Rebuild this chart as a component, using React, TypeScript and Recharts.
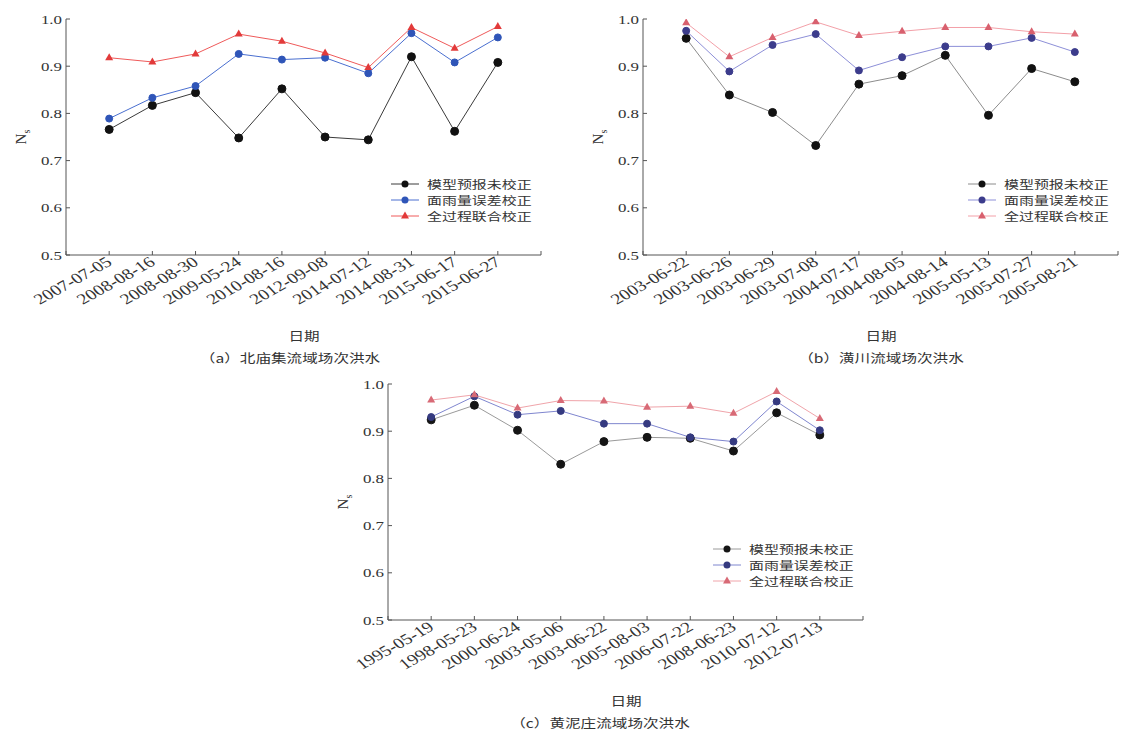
import React from 'react';
import { LineChart, Line, XAxis, YAxis } from 'recharts';

const seriesNames = ['模型预报未校正', '面雨量误差校正', '全过程联合校正'];
const yTicks = [0.5, 0.6, 0.7, 0.8, 0.9, 1.0];
const xTicks = [0, 1, 2, 3, 4, 5, 6, 7, 8, 9, 10, 11];

// (a) 北庙集
const datesA = ['2007-07-05', '2008-08-16', '2008-08-30', '2009-05-24', '2010-08-16', '2012-09-08', '2014-07-12', '2014-08-31', '2015-06-17', '2015-06-27'];
const uncorrA = [0.766, 0.817, 0.844, 0.748, 0.852, 0.75, 0.744, 0.92, 0.762, 0.908];
const rainA = [0.789, 0.833, 0.858, 0.926, 0.914, 0.918, 0.885, 0.97, 0.908, 0.961];
const jointA = [0.918, 0.909, 0.926, 0.968, 0.953, 0.928, 0.897, 0.982, 0.938, 0.984];

// (b) 潢川
const datesB = ['2003-06-22', '2003-06-26', '2003-06-29', '2003-07-08', '2004-07-17', '2004-08-05', '2004-08-14', '2005-05-13', '2005-07-27', '2005-08-21'];
const uncorrB = [0.959, 0.839, 0.802, 0.732, 0.862, 0.88, 0.923, 0.796, 0.895, 0.867];
const rainB = [0.975, 0.889, 0.945, 0.968, 0.891, 0.919, 0.942, 0.942, 0.96, 0.93];
const jointB = [0.992, 0.92, 0.961, 0.994, 0.965, 0.974, 0.982, 0.982, 0.973, 0.968];

// (c) 黄泥庄
const datesC = ['1995-05-19', '1998-05-23', '2000-06-24', '2003-05-06', '2003-06-22', '2005-08-03', '2006-07-22', '2008-06-23', '2010-07-12', '2012-07-13'];
const uncorrC = [0.924, 0.955, 0.902, 0.83, 0.878, 0.887, 0.885, 0.858, 0.939, 0.892];
const rainC = [0.93, 0.974, 0.935, 0.943, 0.916, 0.916, 0.887, 0.878, 0.963, 0.902];
const jointC = [0.966, 0.977, 0.949, 0.965, 0.964, 0.951, 0.953, 0.938, 0.984, 0.927];

type Pal = { u: string; uDot: string; r: string; rDot: string; j: string; jDot: string };

const palA: Pal = { u: '#3a3a3a', uDot: '#111', r: '#4a6fd0', rDot: '#2f55b8', j: '#ef5a5a', jDot: '#e23a3a' };
const palB: Pal = { u: '#8c8c8c', uDot: '#111', r: '#8d8fd8', rDot: '#3c3c8c', j: '#f3a0a8', jDot: '#d8606e' };
const palC: Pal = { u: '#9a9a9a', uDot: '#151515', r: '#7f86cf', rDot: '#353a80', j: '#f0a4aa', jDot: '#d86a76' };

const NUM_FONT = '"Liberation Serif", "Times New Roman", serif';
const CJK_FONT = '"Noto Sans CJK SC", sans-serif';
const TXT = '#333';

// chart geometry: y axis 60 wide, plot 475 x 236
const CH_W = 538;
const CH_H = 316;

function XTick(props: any) {
  const { x, y, payload, dates } = props;
  const v = payload.value;
  const label = v >= 1 && v <= dates.length ? dates[v - 1] : '';
  return (
    <g>
      <line x1={x} y1={y} x2={x} y2={y - 4} stroke="#555" />
      {label && (
        <text
          transform={`translate(${x + 4},${y + 9}) scale(1.3,1) rotate(-36)`}
          textAnchor="end"
          fontSize={15}
          fill={TXT}
          fontFamily={NUM_FONT}
        >
          {label}
        </text>
      )}
    </g>
  );
}

function YTick(props: any) {
  const { x, y, payload } = props;
  return (
    <g>
      <line x1={x} y1={y} x2={x + 4} y2={y} stroke="#555" />
      <text
        transform={`translate(${x - 4},${y}) scale(1.3,1)`}
        textAnchor="end"
        dy="0.35em"
        fontSize={13}
        fill={TXT}
        fontFamily={NUM_FONT}
      >
        {Number(payload.value).toFixed(1)}
      </text>
    </g>
  );
}

const circleDot = (r: number, color: string) => (p: any) =>
  <circle key={`c${p.index}`} cx={p.cx} cy={p.cy} r={r} fill={color} stroke={color} />;

const triDot = (color: string) => (p: any) =>
  <path key={`t${p.index}`} d={`M${p.cx},${p.cy - 4.5}L${p.cx + 4},${p.cy + 2.5}L${p.cx - 4},${p.cy + 2.5}Z`} fill={color} />;

function Stretch({ children, style }: { children: React.ReactNode; style?: React.CSSProperties }) {
  return (
    <span style={{ display: 'inline-block', transform: 'scaleX(1.3)', ...style }}>{children}</span>
  );
}

function LegendBox({ pal }: { pal: Pal }) {
  const rows = [
    { c: pal.u, d: pal.uDot, tri: false },
    { c: pal.r, d: pal.rDot, tri: false },
    { c: pal.j, d: pal.jDot, tri: true },
  ];
  return (
    <div style={{ position: 'absolute', left: 385, top: 167 }}>
      {rows.map((row, i) => (
        <div key={i} style={{ display: 'flex', alignItems: 'center', height: 16 }}>
          <svg width={30} height={12}>
            <line x1={0} y1={6} x2={28} y2={6} stroke={row.c} strokeWidth={1} />
            {row.tri ? (
              <path d="M14,1.5L18,8.5L10,8.5Z" fill={row.d} />
            ) : (
              <circle cx={14} cy={6} r={3.5} fill={row.d} />
            )}
          </svg>
          <Stretch style={{ transformOrigin: 'left center', marginLeft: 6, fontFamily: CJK_FONT, fontSize: 11.5, color: TXT, whiteSpace: 'nowrap' }}>
            {seriesNames[i]}
          </Stretch>
        </div>
      ))}
    </div>
  );
}

function Panel({ left, top, dates, u, r, j, pal, caption, capX }: {
  left: number; top: number; dates: string[]; u: number[]; r: number[]; j: number[]; pal: Pal; caption: string; capX: number;
}) {
  const data = dates.map((d, k) => ({ i: k + 1, date: d, u: u[k], r: r[k], j: j[k] }));
  return (
    <div style={{ position: 'absolute', left, top, width: CH_W, height: 380 }}>
      <LineChart width={CH_W} height={CH_H} data={data} margin={{ top: 10, right: 3, left: 0, bottom: 0 }}>
        <XAxis
          dataKey="i"
          type="number"
          domain={[0, 11]}
          ticks={xTicks}
          interval={0}
          height={70}
          tickSize={0}
          tickMargin={0}
          tickLine={false}
          axisLine={{ stroke: '#555' }}
          tick={(p: any) => <XTick {...p} dates={dates} />}
        />
        <YAxis
          type="number"
          domain={[0.5, 1]}
          ticks={yTicks}
          allowDataOverflow
          width={60}
          interval={0}
          tickSize={0}
          tickMargin={0}
          tickLine={false}
          axisLine={{ stroke: '#555' }}
          tick={(p: any) => <YTick {...p} />}
        />
        <Line dataKey="u" type="linear" stroke={pal.u} strokeWidth={1} dot={circleDot(4, pal.uDot)} activeDot={false} isAnimationActive={false} />
        <Line dataKey="r" type="linear" stroke={pal.r} strokeWidth={1} dot={circleDot(3.5, pal.rDot)} activeDot={false} isAnimationActive={false} />
        <Line dataKey="j" type="linear" stroke={pal.j} strokeWidth={1} dot={triDot(pal.jDot)} activeDot={false} isAnimationActive={false} />
      </LineChart>
      <div style={{ position: 'absolute', left: 16, top: 128, transform: 'translate(-50%,-50%) rotate(-90deg)', fontFamily: NUM_FONT, fontSize: 15, color: TXT, whiteSpace: 'nowrap' }}>
        N<sub style={{ fontSize: 10 }}>s</sub>
      </div>
      <LegendBox pal={pal} />
      <div style={{ position: 'absolute', left: 298, top: 326, transform: 'translate(-50%,-50%)', fontFamily: CJK_FONT, fontSize: 12, color: TXT, whiteSpace: 'nowrap' }}>
        <Stretch>日期</Stretch>
      </div>
      <div style={{ position: 'absolute', left: capX, top: 348, transform: 'translate(-50%,-50%)', fontFamily: CJK_FONT, fontSize: 12, color: TXT, whiteSpace: 'nowrap' }}>
        <Stretch>{caption}</Stretch>
      </div>
    </div>
  );
}

export default function App() {
  return (
    <div style={{ position: 'absolute', left: 0, top: 0, width: 1121, height: 740, background: '#fff', overflow: 'hidden' }}>
      <Panel left={6} top={9} dates={datesA} u={uncorrA} r={rainA} j={jointA} pal={palA} caption="（a）北庙集流域场次洪水" capX={284} />
      <Panel left={583} top={9} dates={datesB} u={uncorrB} r={rainB} j={jointB} pal={palB} caption="（b）潢川流域场次洪水" capX={298} />
      <Panel left={328} top={374} dates={datesC} u={uncorrC} r={rainC} j={jointC} pal={palC} caption="（c）黄泥庄流域场次洪水" capX={272} />
    </div>
  );
}
